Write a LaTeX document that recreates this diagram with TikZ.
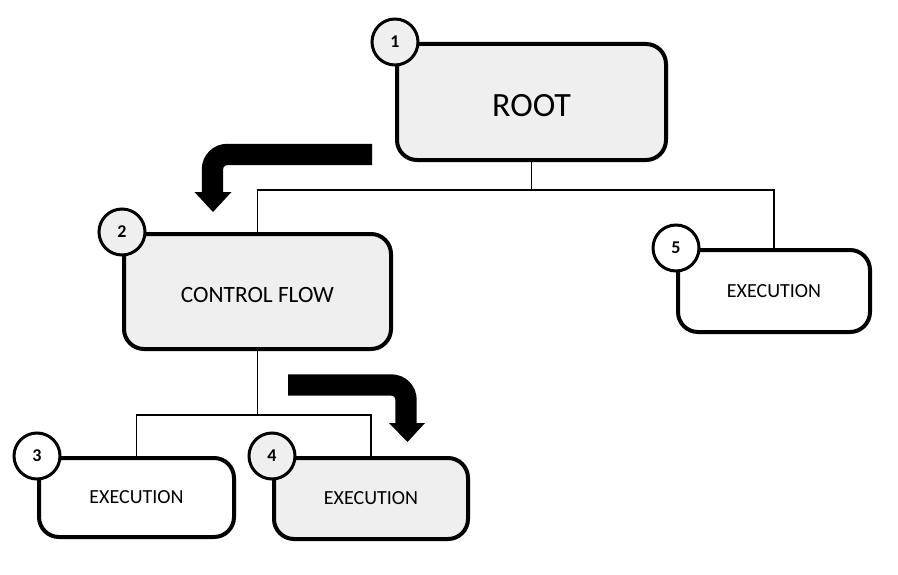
\documentclass[tikz,border=0pt]{standalone}
\usepackage{fontspec}
\setmainfont{Carlito}
\definecolor{boxgray}{HTML}{EFEFEF}

\begin{document}
\begin{tikzpicture}[x=0.75pt,y=-0.75pt,
	block/.style={draw,line width=3pt,rounded corners=15pt,inner sep=0pt},
	grayblock/.style={block,fill=boxgray},
	badge/.style={circle,draw,line width=2.25pt,fill=white,minimum size=34.5pt,inner sep=0pt,font=\bfseries\fontsize{13.5}{13.5}\selectfont},
	link/.style={line width=1.2pt},
	bigarrow/.style={line width=16pt,rounded corners=11pt}]
		% Fix the page size
		\useasboundingbox (0,0) rectangle (898,574);
		
		% Draw tree blocks
		\node[grayblock,minimum width=201.75pt,minimum height=87pt,text height=22.4pt,text depth=0pt,font=\fontsize{25.5}{25.5}\selectfont] (root) at (531.5,102) {ROOT};
		\node[grayblock,minimum width=200.25pt,minimum height=86.25pt,text height=15.8pt,text depth=0pt,font=\fontsize{17.5}{17.5}\selectfont] (flow) at (257.5,291.5) {CONTROL FLOW};
		\node[block,minimum width=144pt,minimum height=61.5pt,font=\fontsize{15}{15}\selectfont] (exec5) at (774,291) {EXECUTION};
		\node[block,minimum width=146.25pt,minimum height=59.25pt,font=\fontsize{15}{15}\selectfont] (exec3) at (136.5,497.5) {EXECUTION};
		\node[grayblock,minimum width=145.5pt,minimum height=60.75pt,font=\fontsize{15}{15}\selectfont] (exec4) at (371,498.5) {EXECUTION};
		
		% Draw links from root
		\draw[link] (root.south) -- +(0,28) coordinate (rootfork);
		\draw[link] (flow.north) |- (rootfork) -| (exec5.north);
		
		% Draw links from control flow
		\draw[link] (flow.south) -- +(0,64) coordinate (flowfork);
		\draw[link] (exec3.north) |- (flowfork) -| (exec4.north);
		
		% Draw numbered badges
		\node[badge,fill=boxgray] (b1) at (root.north west) {1};
		\node[badge,fill=boxgray] (b2) at (flow.north west) {2};
		\node[badge] (b3) at (exec3.north west) {3};
		\node[badge,fill=boxgray] (b4) at (exec4.north west) {4};
		\node[badge] (b5) at (exec5.north west) {5};
		
		% Draw first big arrow
		\draw[bigarrow] (372,154.5) -- (212.5,154.5) -- (212.5,193);
		\fill (194.5,192) -- (231.5,192) -- (213,212) -- cycle;
		
		% Draw second big arrow
		\draw[bigarrow] (288,385) -- (406,385) -- (406,424);
		\fill (389,423) -- (425,423) -- (407.5,442) -- cycle;
		\end{tikzpicture}
\end{document}
